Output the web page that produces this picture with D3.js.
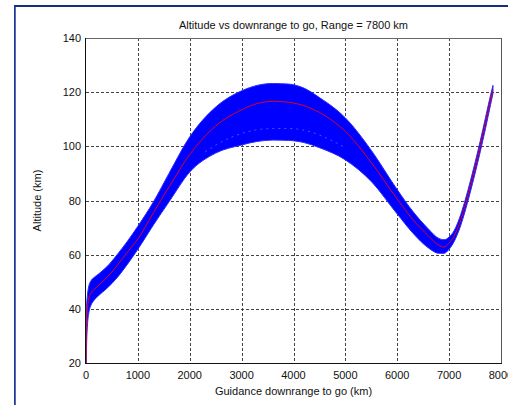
<!DOCTYPE html>
<html><head><meta charset="utf-8">
<script src="https://cdn.jsdelivr.net/npm/d3@7"></script>
<style>html,body{margin:0;padding:0;background:#fff;}svg{display:block;}</style>
</head><body>
<svg id="c" width="508" height="405"></svg>
<script>
const titleText = "Altitude vs downrange to go, Range = 7800 km";
const xLabel = "Guidance downrange to go (km)";
const yLabel = "Altitude (km)";
const xTicks = [0,1000,2000,3000,4000,5000,6000,7000,8000];
const yTicks = [20,40,60,80,100,120,140];

const downrange = [0,3,10,25,50,100,150,250,400,600,800,1000,1300,1600,2000,2500,3000,3300,3600,3900,4200,4500,5000,5500,6000,6300,6600,6800,6900,7000,7100,7200,7300,7400,7500,7600,7700,7800,7845];
const nominalAlt = [20,27,34,39,43.5,46,47,48.8,51.5,56,61,65.8,75.5,85,97,107.5,113.5,115.8,116.6,116.3,115,112.5,105.5,94,80.5,73,67,63.5,62.8,64.3,67,71.5,77.5,84.5,92,100,108.6,117.2,121];
const upperAlt = [30,35,40,44.5,48,50.5,51.5,53,55.5,60,65,70.5,79.5,90,103.5,114.5,120.5,122.5,123.2,123,121.5,118,110.5,98.5,84,76,69.5,66,65.5,66.5,69,73.5,79.5,86.5,94,102,110.5,119,122.5];
const lowerAlt = [20,20,26,33,38,41.5,43,45,47.5,51.5,56.5,62,71,79.5,90.5,97.5,100.5,101.8,102.3,102.2,101.4,99.5,95,87,75,68,62.5,60.5,60.5,62,65,69.5,75.5,82.5,90,98,106.5,115.5,119.5];

// faint gap streak seen inside the dispersion band
const streakRange = [2300,2700,3100,3500,3900,4300,4700,5000];
const streakAlt = [98,102.5,105.3,106.5,106.6,105.5,102.5,99.5];

const svg = d3.select("#c");
const L = 86, R = 501, T = 38, B = 363;
const x = d3.scaleLinear().domain([0,8000]).range([L,R]);
const y = d3.scaleLinear().domain([20,140]).range([B,T]);

// window frame
svg.append("rect").attr("x",14).attr("y",5).attr("width",494).attr("height",2).attr("fill","#142f80");
svg.append("rect").attr("x",14).attr("y",5).attr("width",1).attr("height",400).attr("fill","#1f3a8a");
svg.append("rect").attr("x",15).attr("y",7).attr("width",1).attr("height",398).attr("fill","#5069b0");

// grid
const grid = svg.append("g").attr("stroke","#444").attr("stroke-width",1).attr("stroke-dasharray","3,2");
xTicks.slice(1,-1).forEach(t => grid.append("line").attr("x1",Math.round(x(t))+0.5).attr("x2",Math.round(x(t))+0.5).attr("y1",T).attr("y2",B));
yTicks.slice(1,-1).forEach(t => grid.append("line").attr("y1",Math.round(y(t))+0.5).attr("y2",Math.round(y(t))+0.5).attr("x1",L).attr("x2",R));

// band
const pts = downrange.map((d,i)=>({d, n:nominalAlt[i], u:upperAlt[i], l:lowerAlt[i]}));
const area = d3.area().x(p=>x(p.d)).y0(p=>y(p.l)).y1(p=>y(p.u)).curve(d3.curveMonotoneX);
svg.append("path").datum(pts).attr("d",area).attr("fill","#0000ff").attr("stroke","#2a2aff").attr("stroke-width",1);
const sp = streakRange.map((d,i)=>({d, a:streakAlt[i]}));
svg.append("path").datum(sp).attr("d", d3.line().x(p=>x(p.d)).y(p=>y(p.a)).curve(d3.curveMonotoneX))
  .attr("fill","none").attr("stroke","#8c8cff").attr("stroke-width",0.8).attr("stroke-dasharray","2,4").attr("opacity",0.7);
const line = d3.line().x(p=>x(p.d)).y(p=>y(p.n)).curve(d3.curveMonotoneX);
svg.append("path").datum(pts).attr("d",line).attr("fill","none").attr("stroke","#ff0000").attr("stroke-width",0.9);

// box
svg.append("line").attr("x1",L).attr("x2",R).attr("y1",T+0.5).attr("y2",T+0.5).attr("stroke","#666");
svg.append("line").attr("x1",R+0.5).attr("x2",R+0.5).attr("y1",T).attr("y2",B).attr("stroke","#555");
svg.append("line").attr("x1",L-0.5).attr("x2",L-0.5).attr("y1",T).attr("y2",B+1).attr("stroke","#111");
svg.append("line").attr("x1",L-0.5).attr("x2",R+1).attr("y1",B+0.5).attr("y2",B+0.5).attr("stroke","#111");

const font = "'Liberation Sans', Arial, sans-serif";
const tg = svg.append("g").attr("font-family",font).attr("font-size",11).attr("fill","#111");
xTicks.forEach(t => tg.append("text").attr("x",x(t)).attr("y",379).attr("text-anchor","middle").text(t));
yTicks.forEach(t => tg.append("text").attr("x",81).attr("y",y(t)+4).attr("text-anchor","end").text(t));
tg.append("text").attr("x",(L+R)/2).attr("y",395).attr("text-anchor","middle").text(xLabel);
tg.append("text").attr("transform",`translate(41,${(T+B)/2}) rotate(-90)`).attr("text-anchor","middle").text(yLabel);
tg.append("text").attr("x",(L+R)/2).attr("y",29).attr("text-anchor","middle").text(titleText);
</script>
</body></html>
